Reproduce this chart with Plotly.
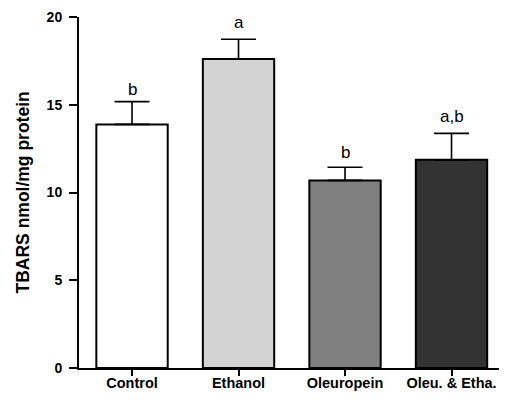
import plotly.graph_objects as go

categories = ["Control", "Ethanol", "Oleuropein", "Oleu. & Etha."]
means = [13.88, 17.6, 10.69, 11.86]
errors = [1.3, 1.13, 0.75, 1.51]
letters = ["b", "a", "b", "a,b"]
fills = ["#ffffff", "#d3d3d3", "#808080", "#333333"]
letter_shift = [1, 5.5, 3, 5]

y_ticks = [0, 5, 10, 15, 20]

FONT = "Arial, Liberation Sans, sans-serif"

fig = go.Figure()
fig.add_trace(go.Bar(
    x=categories,
    y=means,
    width=0.67,
    marker=dict(color=fills, line=dict(color="black", width=2)),
    error_y=dict(type="data", array=errors, symmetric=False, arrayminus=[0]*4,
                 color="black", thickness=1.6, width=17.5),
    showlegend=False,
))

for c, m, e, t, s in zip(categories, means, errors, letters, letter_shift):
    fig.add_annotation(x=c, y=m + e, text=t, showarrow=False, yanchor="bottom",
                       yshift=s, font=dict(family=FONT, size=17, color="black"))

fig.add_annotation(xref="paper", yref="paper", x=-57/420, y=0.5, text="<b>TBARS nmol/mg protein</b>",
                   textangle=-90, showarrow=False, xanchor="center", yanchor="middle",
                   font=dict(family=FONT, size=17.5, color="black"))

fig.update_layout(
    width=491, height=384,
    margin=dict(l=71, r=0, t=9, b=24),
    plot_bgcolor="white", paper_bgcolor="white",
    font=dict(family=FONT, color="black"),
)
fig.update_xaxes(
    range=[-0.498, 3.446], showline=True, linecolor="black", linewidth=2,
    ticks="outside", ticklen=6, tickwidth=2, tickcolor="black",
    tickfont=dict(size=14.5, family=FONT, color="black"),
    ticklabelstandoff=-5, automargin=False,
    showgrid=False, zeroline=False,
    tickvals=categories,
    ticktext=["<b>%s</b>" % c.replace("&", "&amp;") for c in categories],
)
fig.update_yaxes(
    range=[0, 20], showline=True, linecolor="black", linewidth=2,
    ticks="outside", ticklen=8, tickwidth=2, tickcolor="black",
    tickvals=y_ticks, ticktext=["<b>%d</b>" % v for v in y_ticks],
    tickfont=dict(size=14, family=FONT, color="black"),
    ticklabelstandoff=4, automargin=False,
    showgrid=False, zeroline=False,
)

fig.write_html("out.html")
